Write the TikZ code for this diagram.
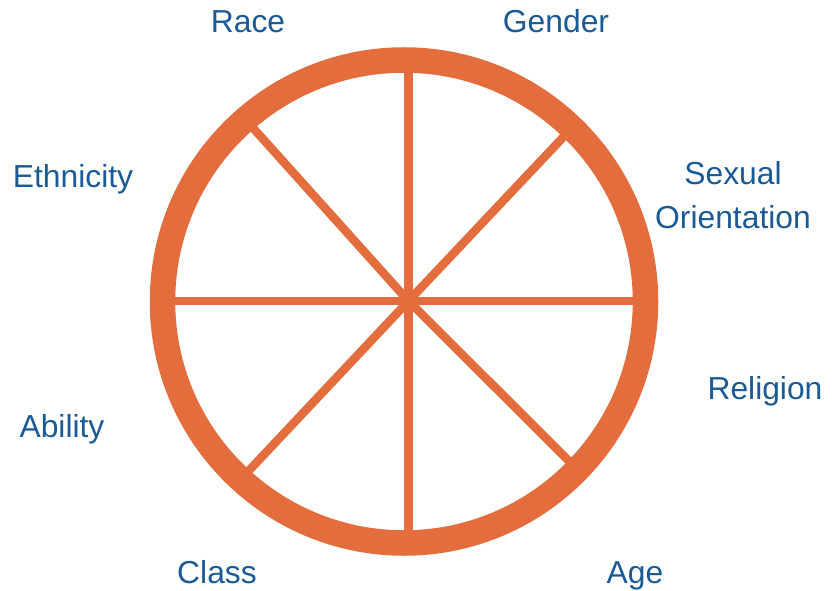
\documentclass[tikz,border=0pt]{standalone}
\usepackage{fontspec}
\setmainfont{Liberation Sans}
\definecolor{ringc}{RGB}{227,109,61}
\definecolor{labc}{RGB}{26,90,150}
\begin{document}
\begin{tikzpicture}[x=1pt,y=-1pt,
  spoke/.style={draw=ringc,line width=8.5pt},
  ring/.style={draw=ringc,line width=25.5pt},
  lab/.style={text=labc,font=\fontsize{31.8}{43.5}\selectfont,inner sep=0pt,anchor=base}]
\useasboundingbox (0,0) rectangle (838,591);
\coordinate (hub) at (408.5,301);
\coordinate (c) at (404,301.5);
\coordinate (sN) at (408.5,60);
\coordinate (sS) at (408.5,542);
\coordinate (sW) at (165,301);
\coordinate (sE) at (645,301);
\coordinate (sNW) at (245,119);
\coordinate (sNE) at (570,130);
\coordinate (sSW) at (241,479);
\coordinate (sSE) at (577,469);
\foreach \e in {sN,sS,sW,sE,sNW,sNE,sSW,sSE} \draw[spoke] (hub) -- (\e);
\node[ring,circle,minimum size=483pt,inner sep=0pt] (wheel) at (c) {};
\node[lab] (race) at (248,33) {Race};
\node[lab] (gender) at (556,33) {Gender};
\node[lab] (eth) at (73,187) {Ethnicity};
\node[lab,anchor=center,align=center] (sex) at (733,195) {Sexual\\Orientation};
\node[lab] (rel) at (765,399) {Religion};
\node[lab] (abil) at (62,437) {Ability};
\node[lab] (class) at (217,583) {Class};
\node[lab] (age) at (635,583) {Age};
\end{tikzpicture}
\end{document}
